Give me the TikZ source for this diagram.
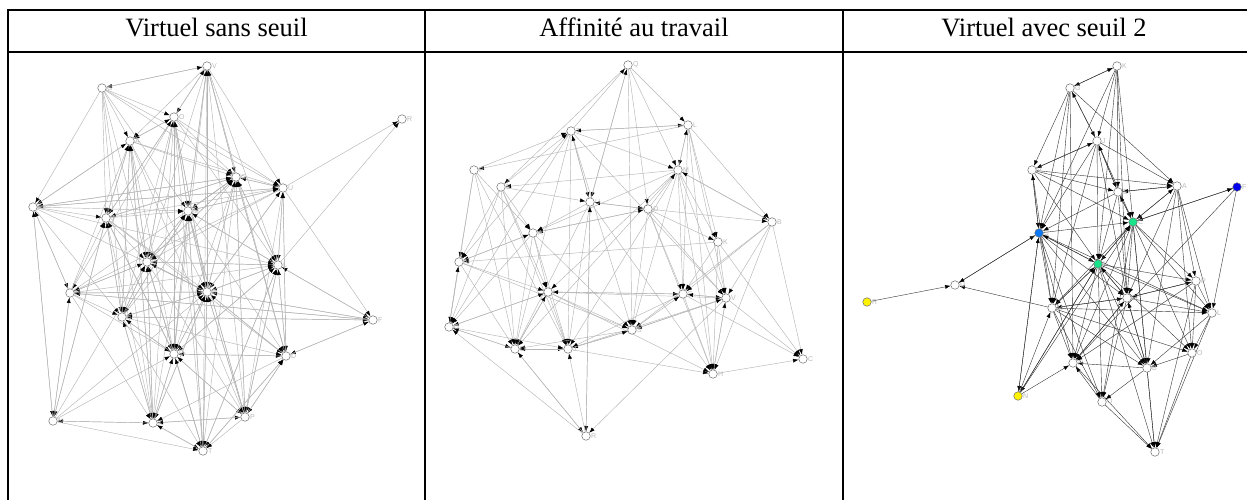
\documentclass[tikz,border=0pt]{standalone}
\usepackage{fontspec}
\setmainfont{Liberation Serif}
\setsansfont{Liberation Sans}
\usetikzlibrary{arrows.meta,backgrounds}
\definecolor{markgreen}{HTML}{19E38A}
\definecolor{markblue}{HTML}{0A78F5}
\definecolor{marknavy}{HTML}{0000EE}
\definecolor{markyellow}{HTML}{FFF200}

\begin{document}
\begin{tikzpicture}[x=1pt,y=-1pt,
   frame/.style={line width=1.6pt},
   title/.style={font=\fontsize{26.5}{30}\selectfont,anchor=base},
   actor/.style={circle,draw=gray!85!black,fill=white,inner sep=0pt,minimum size=8.5pt,line width=0.5pt},
   tag/.style={font=\sffamily\fontsize{7}{8}\selectfont,text=gray!55,inner sep=0.5pt},
   tie/.style={draw=gray!58,line width=0.45pt,-{Latex[length=5.5pt,width=4pt,color=black]}},
   darktie/.style={tie,draw=black!80,line width=0.4pt}]
  \useasboundingbox (0,0) rectangle (1247,500);

  % table
  \draw[frame] (8,503) -- (8,10) -- (1250,10);
  \draw[frame] (8,52) -- (1250,52);
  \draw[frame] (425,10) -- (425,503);
  \draw[frame] (843,10) -- (843,503);
  \node[title] (h1) at (216.5,37) {Virtuel sans seuil};
  \node[title] (h2) at (634,37) {Affinité au travail};
  \node[title] (h3) at (1044,37) {Virtuel avec seuil 2};

  % virtuel sans seuil
  \foreach \n/\x/\y in {V/207/66,G/102/88,O/174/117,A/130/141,R/402/119,C/236/177,
      U/283/188,I/33/207,J/106/218,M/188/211,E/147/262,L/278/265,H/70/293,B/207/292,
      S/122/317,F/373/320,Q/174/354,D/286/356,N/53/421,K/153/423,P/245/417,T/203/451}
    \node[actor,label={[tag]right:\n}] (vs\n) at (\x,\y) {};

  % affinite au travail
  \foreach \n/\x/\y in {Q/628/65,L/688/125,T/571/131,M/678/170,P/474/170,E/501/187,
      U/590/202,O/648/209,B/772/222,K/718/242,A/533/233,N/459/262,I/548/292,F/683/294,
      V/726/298,G/449/327,S/632/330,D/515/349,J/568/349,C/803/359,H/713/374,R/586/436}
    \node[actor,label={[tag]right:\n}] (at\n) at (\x,\y) {};

  % virtuel avec seuil 2
  \foreach \n/\x/\y/\c in {K/1117/66/white,G/1070/88/white,J/1097/141/white,V/1032/170/white,
      E/1118/192/white,A/1177/186/white,F/1237/187/marknavy,C/1133/222/markgreen,
      S/1039/233/markblue,I/1098/264/markgreen,U/955/285/white,R/867/302/markyellow,
      P/1196/281/white,D/1127/298/white,M/1052/308/white,L/1212/313/white,O/1192/353/white,
      H/1073/363/white,B/1147/368/white,N/1018/396/markyellow,Q/1102/402/white,T/1155/452/white}
    \node[actor,fill=\c,label={[tag]right:\n}] (va\n) at (\x,\y) {};

  \begin{scope}[on background layer]
    \foreach \s/\tl in {V/{G,O,A,C,U,M,E,B,L,Q,D,P,T},G/{V,A,O,C,U,I,J,E,S,K,M},
        O/{V,A,C,U,J,M,E,B,H,S,Q,K,T,L},A/{O,C,U,I,J,E,B,S,Q,K,P},
        C/{V,U,I,J,M,E,B,L,D,P,T,Q},U/{R,F,C,M,E,L,B,D,P,H,I},
        I/{A,U,C,J,M,B,H,S,N,L},J/{A,O,C,U,M,E,B,S,Q,D,K,N},
        M/{V,C,U,O,E,L,B,S,Q,K,D,P,T},E/{A,O,C,M,L,B,H,S,Q,K,T,P},
        L/{R,U,C,M,B,F,D,P,T,Q,E},H/{I,A,J,E,B,S,Q,K,N,L,C,F},
        B/{V,O,C,U,M,L,E,S,F,Q,D,K,P,T,H},S/{A,J,E,M,B,Q,K,D,T,C,F},
        F/{B,D,L,S,H},Q/{J,E,B,L,D,K,T,P,M,S},D/{F,C,U,L,B,Q,K,P,T},
        N/{I,K,T,H,E,Q,B,J},K/{S,E,Q,B,T,P,N,A},P/{D,L,B,Q,K,T,M,C},T/{K,Q,B,M,L,D}}
      \foreach \t in \tl
        \draw[tie] (vs\s) -- (vs\t);

    \foreach \s/\tl in {Q/{L,E,U,O,M,S},T/{L,Q,M,U,N,G,D,J,S,V},L/{B,P,K,M,F,H,V,T},
        M/{E,A,B,K,F,V,H,D,J,S,I,L},P/{T,N,G,A,D,J},E/{U,N,A,G,D,J,I,T},
        U/{O,A,D,J,R,H,T,Q},O/{B,K,S,A,F,V,H,M,U},B/{C,H,V,F,S,M},K/{N,V,C,F,H},
        A/{N,O,G,D,J,I,S},N/{G,I,D,S,A},I/{J,F,D,S,G,V,H},F/{V,H,J,C,I},
        V/{R,S,J,H,C,F},G/{D,J,I,N},S/{J,D,F,V},D/{J,R,I,G},J/{H,S,D},H/{C,V},R/{D,J,U,G}}
      \foreach \t in \tl
        \draw[tie] (at\s) -- (at\t);

    \foreach \s/\tl in {K/{G,J,E,C,I,S,D},G/{J,V,A,S,H,M,K},J/{V,E,A,S,I,M,C,D,G},
        V/{E,S,C,A,I,M,J},E/{A,C,I,S,D,J},A/{L,B,O,D,P,C,E},F/{C,L,H},U/{S},R/{U},
        C/{I,D,P,L,O,B,Q,T,H,M,A,E,F},S/{I,M,H,Q,D,C,B,L,N,U,V},
        I/{D,H,B,Q,M,P,L,O,T,N,C,S},M/{H,D,L,O,B,U,Q,I},N/{H,S,M,I,C},
        D/{P,L,H,B,Q,M,I},P/{L,O,T,H,D},L/{O,B,T},O/{T,B},B/{H,T,Q,D},Q/{T,H},H/{T,D}}
      \foreach \t in \tl
        \draw[darktie] (va\s) -- (va\t);
  \end{scope}
\end{tikzpicture}
\end{document}
